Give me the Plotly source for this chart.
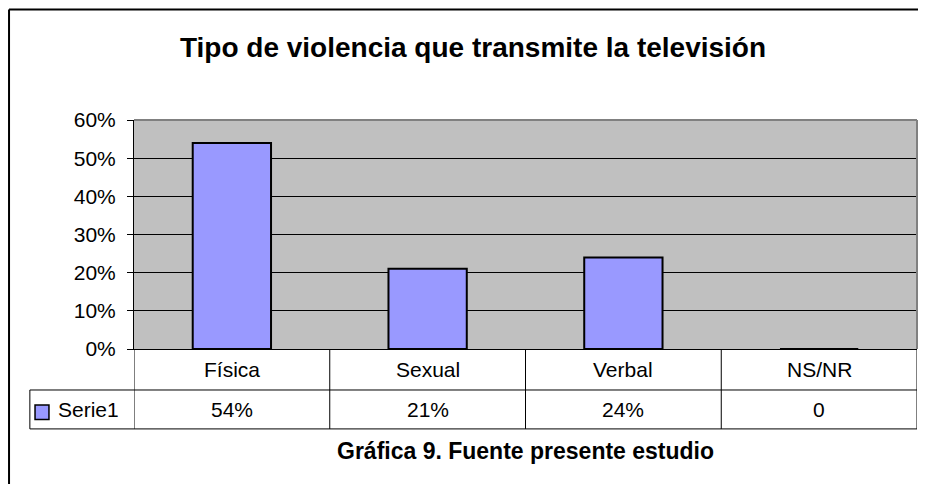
import plotly.graph_objects as go

# data
categorias = ["Física", "Sexual", "Verbal", "NS/NR"]
valores = [0.54, 0.21, 0.24, 0.0]
etiquetas = ["54%", "21%", "24%", "0"]
serie = "Serie1"
titulo = "Tipo de violencia que transmite la televisión"
pie = "Gráfica 9. Fuente presente estudio"

FONT = "Liberation Sans, Arial, sans-serif"
LAV = "#9999FF"

fig = go.Figure()
fig.add_trace(go.Bar(
    x=categorias, y=valores, width=0.4,
    marker=dict(color=LAV, line=dict(color="black", width=2)),
    name=serie, showlegend=False,
))

# table rows under the plot (paper y: plot height 229px)
y_head = -0.179
y_row = -0.349
x_leg = -0.133

shapes = []
# horizontal table lines
shapes.append(dict(type="line", xref="paper", yref="paper", x0=x_leg, x1=1, y0=y_head, y1=y_head,
                   line=dict(color="black", width=1)))
shapes.append(dict(type="line", xref="paper", yref="paper", x0=x_leg, x1=1, y0=y_row, y1=y_row,
                   line=dict(color="black", width=1)))
shapes.append(dict(type="line", xref="paper", yref="paper", x0=x_leg, x1=x_leg, y0=y_head, y1=y_row,
                   line=dict(color="black", width=1)))
# vertical lines at category boundaries
for i in range(len(categorias) + 1):
    shapes.append(dict(type="line", xref="x", yref="paper", x0=i - 0.5, x1=i - 0.5, y0=0, y1=y_row,
                       line=dict(color="black", width=1)))
# plot area frame: grey on top and right
shapes.append(dict(type="line", xref="paper", yref="paper", x0=0, x1=1, y0=1, y1=1,
                   line=dict(color="#808080", width=2)))
shapes.append(dict(type="line", xref="paper", yref="paper", x0=1, x1=1, y0=0, y1=1,
                   line=dict(color="#808080", width=2)))
# outer chart border (top and left)
shapes.append(dict(type="line", xref="paper", yref="paper", x0=-0.1596, x1=1.05, y0=1.4825, y1=1.4825,
                   line=dict(color="black", width=2)))
shapes.append(dict(type="line", xref="paper", yref="paper", x0=-0.1596, x1=-0.1596, y0=1.4825, y1=-0.7,
                   line=dict(color="black", width=2)))
# legend key square
shapes.append(dict(type="rect", xref="paper", yref="paper", x0=-0.1264, x1=-0.1086, y0=-0.2445, y1=-0.308,
                   fillcolor=LAV, line=dict(color="black", width=1.5)))

txt = dict(family=FONT, size=21, color="black")
annotations = []
for c, e in zip(categorias, etiquetas):
    annotations.append(dict(x=c, y=(0 + y_head) / 2, xref="x", yref="paper", text=c, showarrow=False,
                            xanchor="center", yanchor="middle", font=txt))
    annotations.append(dict(x=c, y=(y_head + y_row) / 2, xref="x", yref="paper", text=e, showarrow=False,
                            xanchor="center", yanchor="middle", font=txt))
annotations.append(dict(x=-0.0996, y=(y_head + y_row) / 2, xref="paper", yref="paper", text=serie,
                        xanchor="left", yanchor="middle", showarrow=False, font=txt))
annotations.append(dict(x=0.5, y=-0.445, xref="paper", yref="paper", text="<b>" + pie + "</b>",
                        xanchor="center", yanchor="middle", showarrow=False,
                        font=dict(family=FONT, size=23, color="black")))

# page body has an 8px margin, so the figure is 8px smaller and margins are shifted
fig.update_layout(
    width=918, height=476,
    margin=dict(l=126, r=9, t=112, b=135),
    paper_bgcolor="white", plot_bgcolor="#C0C0C0",
    title=dict(text="<b>" + titulo + "</b>", x=465 / 918, xanchor="center", y=0.918, yanchor="middle",
               font=dict(family=FONT, size=28, color="black")),
    font=txt,
    xaxis=dict(showticklabels=False, showgrid=False, ticks="", range=[-0.5, 3.5],
               showline=True, linecolor="black", linewidth=1),
    yaxis=dict(range=[0, 0.6], dtick=0.1, tickformat=".0%", showgrid=True, gridcolor="black",
               gridwidth=1, ticks="outside", ticklen=6, tickcolor="black", showline=True,
               linecolor="black", linewidth=1, zeroline=False, ticklabelstandoff=7),
    shapes=shapes, annotations=annotations,
)

fig.write_html("out.html")
